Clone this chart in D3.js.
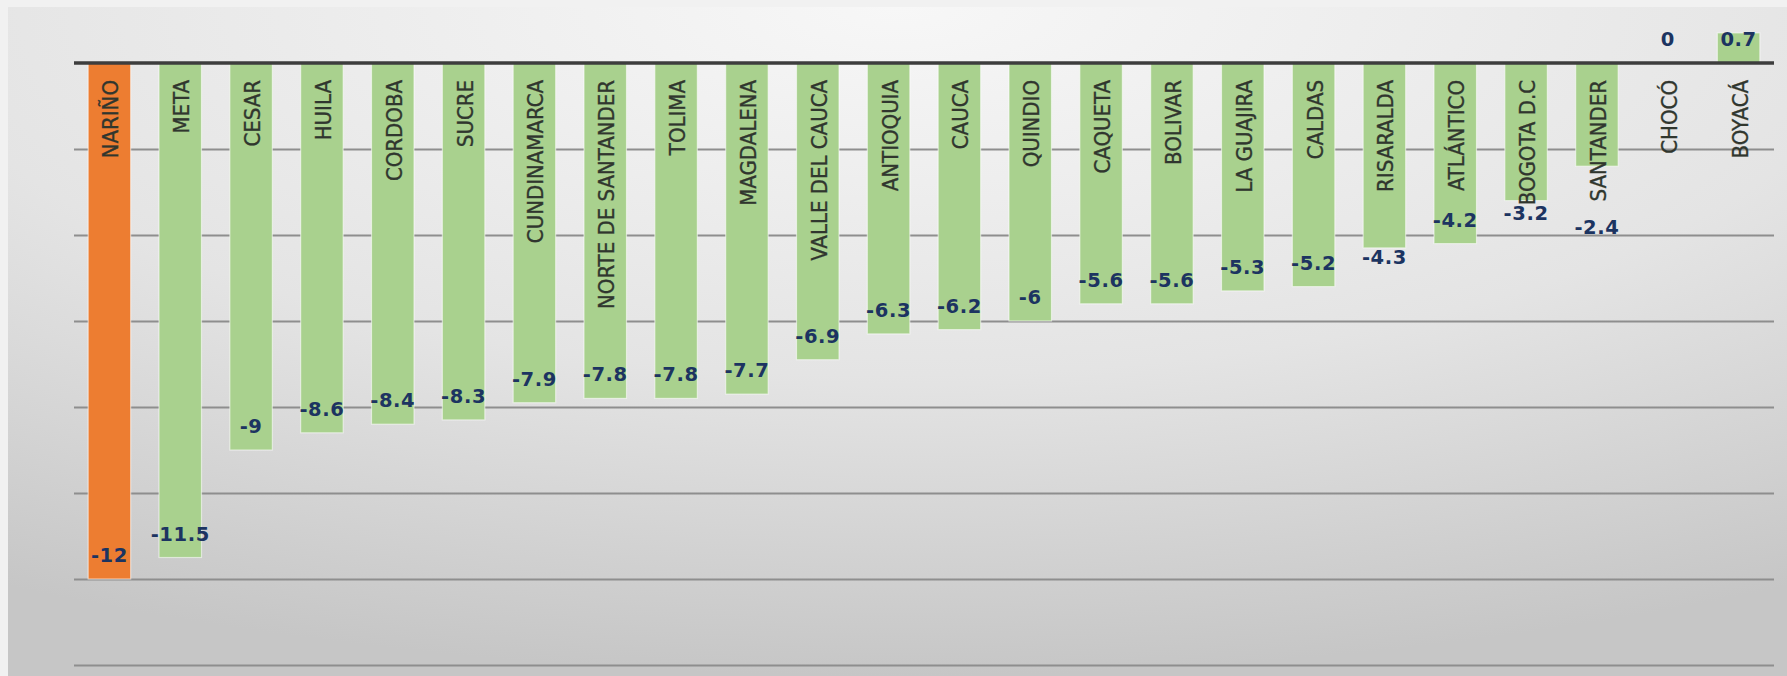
<!DOCTYPE html>
<html>
  <head>
    <meta charset="utf-8">
    <title>Departamentos</title>
    <script src="https://d3js.org/d3.v7.min.js"></script>
    <style>
      html, body { margin: 0; padding: 0; background: #f0f0f0; overflow: hidden; }
    </style>
  </head>
  <body>
  </body>
</html>

<script>
  // departamentos y variación
  var departamentos = ["NARIÑO", "META", "CESAR", "HUILA", "CORDOBA", "SUCRE", "CUNDINAMARCA",
                       "NORTE DE SANTANDER", "TOLIMA", "MAGDALENA", "VALLE DEL CAUCA", "ANTIOQUIA",
                       "CAUCA", "QUINDIO", "CAQUETA", "BOLIVAR", "LA GUAJIRA", "CALDAS", "RISARALDA",
                       "ATLÁNTICO", "BOGOTA D.C", "SANTANDER", "CHOCÓ", "BOYACÁ"];
  var valores = [-12, -11.5, -9, -8.6, -8.4, -8.3, -7.9, -7.8, -7.8, -7.7, -6.9, -6.3,
                 -6.2, -6, -5.6, -5.6, -5.3, -5.2, -4.3, -4.2, -3.2, -2.4, 0, 0.7];
  var ticks = [0, -2, -4, -6, -8, -10, -12, -14];
  var destacado = "NARIÑO";

  var W = 1787, H = 676;

  // etiquetas que en el original fueron movidas a mano
  var nudge = {"RISARALDA": 33, "BOGOTA D.C": 36, "SANTANDER": 85};

  var svg = d3.select("body").append("svg")
              .attr("width", W)
              .attr("height", H);

  var defs = svg.append("defs");
  var grad = defs.append("radialGradient")
                 .attr("id", "fondo")
                 .attr("cx", "50%").attr("cy", "0%")
                 .attr("r", "100%");
  grad.append("stop").attr("offset", "0%").attr("stop-color", "#f7f7f7");
  grad.append("stop").attr("offset", "55%").attr("stop-color", "#e4e4e4");
  grad.append("stop").attr("offset", "100%").attr("stop-color", "#c6c6c6");

  svg.append("rect").attr("width", W).attr("height", H).attr("fill", "#f1f1f1");
  svg.append("rect")
     .attr("x", 8).attr("y", 7)
     .attr("width", W - 8).attr("height", H - 7)
     .attr("fill", "url(#fondo)");

  var x = d3.scaleBand()
            .domain(departamentos)
            .range([74, 1774])
            .paddingInner(0.4)
            .paddingOuter(0.2);

  var y = d3.scaleLinear()
            .domain([-14, 0])
            .range([665, 63]);

  // líneas de cuadrícula
  var grid = svg.append("g")
                .attr("transform", "translate(74,0)")
                .call(d3.axisLeft(y).tickValues(ticks.filter(function (t) { return t !== 0; }))
                                    .tickSize(-1700).tickFormat(""));
  grid.select(".domain").remove();
  grid.selectAll("line").attr("stroke", "#8e8e8e").attr("stroke-width", 2.2);

  var data = departamentos.map(function (d, i) { return {name: d, value: valores[i]}; });

  // barras
  svg.selectAll("rect.bar")
     .data(data)
     .enter()
     .append("rect")
     .attr("class", "bar")
     .attr("x", function (d) { return x(d.name); })
     .attr("y", function (d) { return y(Math.max(0, d.value)); })
     .attr("width", x.bandwidth())
     .attr("height", function (d) { return Math.abs(y(d.value) - y(0)); })
     .attr("fill", function (d) { return d.name === destacado ? "#ED7D31" : "#A9D18E"; })
     .attr("stroke", "rgba(255,255,255,0.55)")
     .attr("stroke-width", 1.2);

  // eje cero
  svg.append("line")
     .attr("x1", 74).attr("x2", 1774)
     .attr("y1", y(0)).attr("y2", y(0))
     .attr("stroke", "#3d3d3d")
     .attr("stroke-width", 3.5);

  // nombres de departamento (verticales)
  svg.selectAll("text.cat")
     .data(data)
     .enter()
     .append("text")
     .attr("class", "cat")
     .attr("transform", function (d) {
       return "translate(" + (x(d.name) + x.bandwidth() / 2 + 1) + "," + 80 + ") rotate(-90)";
     })
     .attr("text-anchor", "end")
     .attr("dy", "0.36em")
     .style("font-family", "'Liberation Sans Narrow', 'DejaVu Sans Condensed', 'Liberation Sans', sans-serif")
     .style("font-size", "22px")
     .style("fill", "#30362e")
     .style("stroke", "#30362e")
     .style("stroke-width", 0.35)
     .text(function (d) { return d.name; });

  // valores
  svg.selectAll("text.val")
     .data(data)
     .enter()
     .append("text")
     .attr("class", "val")
     .attr("x", function (d) { return x(d.name) + x.bandwidth() / 2; })
     .attr("y", function (d) { return y(Math.min(0, d.value)) - 24 + (nudge[d.name] || 0); })
     .attr("text-anchor", "middle")
     .attr("dy", "0.36em")
     .style("font-family", "'DejaVu Sans', Verdana, sans-serif")
     .style("font-weight", "bold")
     .style("font-size", "19.5px")
     .style("letter-spacing", "0.6px")
     .style("fill", "#1c3461")
     .text(function (d) { return d.value; });
</script>
